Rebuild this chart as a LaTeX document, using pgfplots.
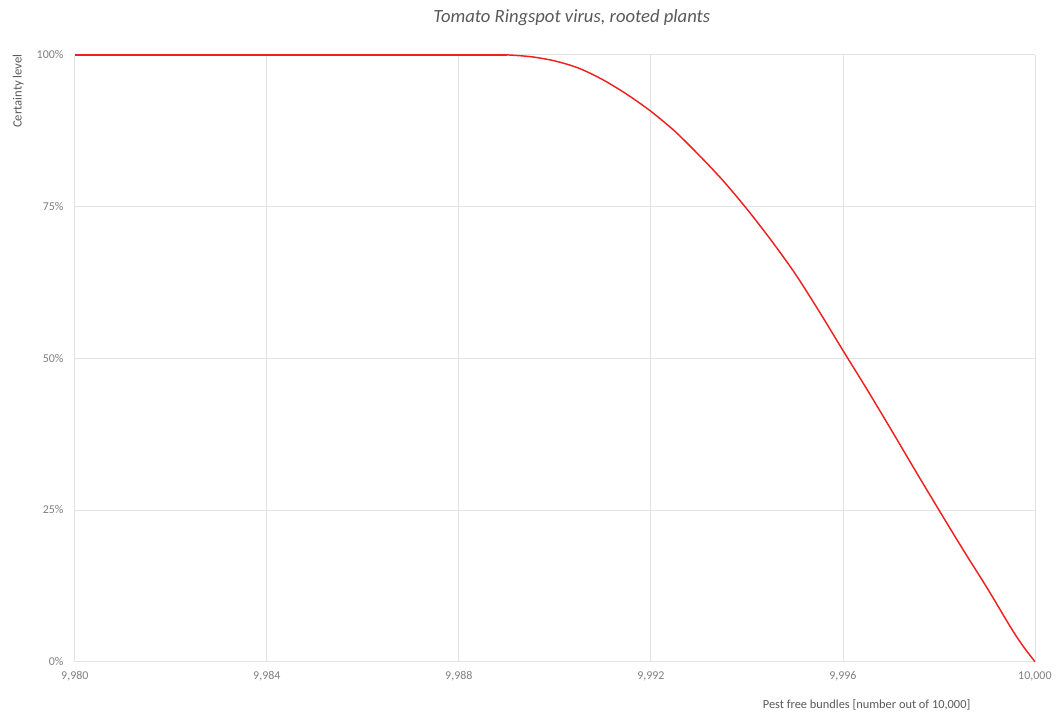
\documentclass[border=0pt]{standalone}
\usepackage{pgfplots}
\pgfplotsset{compat=1.18}
\usepackage{fontspec}
\setmainfont{Carlito}
\definecolor{gridc}{HTML}{E3E3E3}
\definecolor{txt}{HTML}{595959}
\definecolor{tick}{HTML}{7F7F7F}
\definecolor{curve}{HTML}{F02020}
\begin{document}
\begin{tikzpicture}
\begin{axis}[
  scale only axis,
  width=721.5pt, height=456pt,
  xmin=9980, xmax=10000, ymin=0, ymax=100,
  xtick={9980,9984,9988,9992,9996,10000},
  ytick={0,25,50,75,100},
  scaled x ticks=false,
  scaled y ticks=false,
  /pgf/number format/assume math mode=true,
  /pgf/number format/1000 sep={,},
  yticklabel={\pgfmathprintnumber{\tick}\%},
  tick label style={font=\fontsize{9}{10}\selectfont, text=tick},
  xticklabel style={yshift=-4pt},
  yticklabel style={xshift=-5pt},
  major tick length=0pt,
  grid=major,
  major grid style={gridc, line width=0.6pt},
  axis line style={draw=none},
  axis x line*=bottom,
  axis y line*=left,
  clip=false,
]
\draw[gridc, line width=0.6pt] (rel axis cs:0,0) -- (rel axis cs:1,0);
\path ([xshift=-56.25pt,yshift=-37.5pt]rel axis cs:0,0) -- ([xshift=14.25pt,yshift=41.25pt]rel axis cs:1,1);
\addplot[curve, line width=1.1pt] coordinates {(9980,100) (9989.0,100)};
\addplot[curve, line width=1.1pt, smooth, tension=0.5] coordinates {
 (9989.0,100) (9989.5,99.7) (9990,99.0) (9990.5,97.8) (9991,95.9) (9991.5,93.5)
 (9992,90.7) (9992.5,87.4) (9993,83.5) (9993.5,79.3) (9994,74.6) (9994.5,69.5)
 (9995,64.0) (9995.5,57.8) (9996,51.3) (9996.5,44.9) (9997,38.3) (9997.5,31.6)
 (9998,25.0) (9998.5,18.5) (9999,12.2) (9999.5,5.6) (9999.75,2.6) (10000,0)
};
\node[anchor=base, font=\fontsize{14}{16}\itshape, text=txt] at ([yshift=24pt]rel axis cs:0.5177,1) {Tomato Ringspot virus, rooted plants};
\node[anchor=south east, rotate=90, font=\fontsize{9.5}{11}\selectfont, text=txt] at ([xshift=-35pt,yshift=4pt]rel axis cs:0,1) {Certainty level};
\node[anchor=base east, font=\fontsize{9.3}{11}\selectfont, text=txt] at ([xshift=-45pt,yshift=-35pt]rel axis cs:1,0) {Pest free bundles [number out of 10,000]};
\end{axis}
\end{tikzpicture}
\end{document}
